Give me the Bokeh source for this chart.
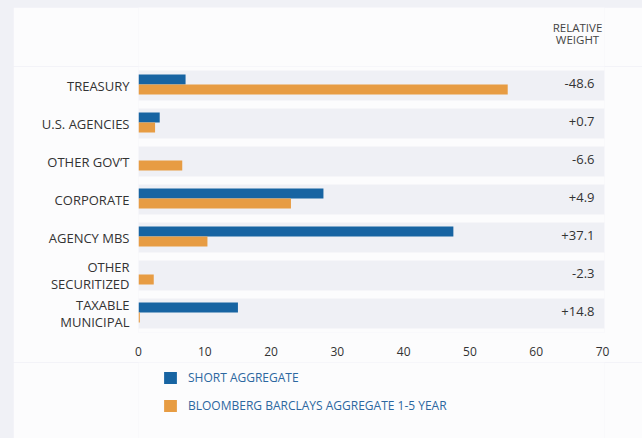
from bokeh.plotting import figure
from bokeh.models import Range1d, FactorRange, FixedTicker, Legend, LegendItem, ColumnDataSource, Label
from bokeh.transform import dodge
from bokeh.layouts import column
from bokeh.embed import file_html
from bokeh.resources import INLINE
from bokeh.core.properties import value

# ---- data ----
categories = ["TREASURY", "U.S. AGENCIES", "OTHER GOV\u2019T", "CORPORATE",
              "AGENCY MBS", "OTHER\nSECURITIZED", "TAXABLE\nMUNICIPAL"]
short_aggregate = [7.1, 3.2, 0.0, 27.9, 47.5, 0.0, 15.0]
bloomberg_1_5 = [55.7, 2.5, 6.6, 23.0, 10.4, 2.3, 0.2]
relative_weight = ["-48.6", "+0.7", "-6.6", "+4.9", "+37.1", "-2.3", "+14.8"]
x_ticks = [0, 10, 20, 30, 40, 50, 60, 70]
series_names = ["SHORT AGGREGATE", "BLOOMBERG BARCLAYS AGGREGATE 1-5 YEAR"]
header_text = "RELATIVE\nWEIGHT"

X_END = 70.3
FONT = "Open Sans"
BLUE = "#1764a2"
ORANGE = "#e79c43"
BAND = "#eff0f5"
PANEL = "#fcfcfd"
OUTER = "#f0f1f6"

src = ColumnDataSource(dict(cat=categories, short=short_aggregate,
                            bench=bloomberg_1_5, rel=relative_weight,
                            end=[X_END] * len(categories)))
x_range = Range1d(0, X_END)


def blank(height, margin):
    f = figure(width=629, height=height, output_backend="svg", toolbar_location=None,
               x_range=x_range, y_range=Range1d(0, 1),
               x_axis_location=None, y_axis_location=None, min_border=0)
    f.margin = margin
    f.background_fill_color = PANEL
    f.border_fill_color = PANEL
    f.outline_line_color = None
    f.grid.visible = False
    return f


# ---- header strip ----
h = blank(59, (7, 0, 0, 13))
h.add_layout(Label(x=X_END, y=0.555, x_offset=-27, text=header_text,
                   text_align="center", text_baseline="middle",
                   text_font=FONT, text_font_size="11.5px", text_color="#444444",
                   text_line_height=0.82))

# ---- main chart ----
p = figure(width=629, height=296, output_backend="svg", toolbar_location=None,
           x_range=x_range,
           y_range=FactorRange(factors=list(reversed(categories))),
           min_border_left=125, min_border_right=38, min_border_top=0,
           min_border_bottom=30)
p.margin = (0, 0, 0, 13)
p.background_fill_color = PANEL
p.border_fill_color = PANEL
p.outline_line_color = None
p.grid.visible = False

# row bands
p.hbar(y="cat", left=0, right="end", height=30 / 38, source=src,
       fill_color=BAND, line_color=None)

r1 = p.hbar(y=dodge("cat", 0.158, range=p.y_range), left=0, right="short",
            height=0.263, source=src, fill_color=BLUE, line_color=None)
r2 = p.hbar(y=dodge("cat", -0.105, range=p.y_range), left=0, right="bench",
            height=0.263, source=src, fill_color=ORANGE, line_color=None)

p.text(x="end", y=dodge("cat", 0.06, range=p.y_range), text="rel", source=src,
       x_offset=-10, text_align="right", text_baseline="middle",
       text_font=value(FONT), text_font_size="13px", text_color="#333333")

p.xaxis.ticker = FixedTicker(ticks=x_ticks)
p.xaxis.axis_line_color = None
p.xaxis.major_tick_line_color = None
p.xaxis.minor_tick_line_color = None
p.xaxis.major_tick_out = 0
p.xaxis.major_tick_in = 0
p.xaxis.major_label_standoff = 14
p.xaxis.major_label_text_font = FONT
p.xaxis.major_label_text_font_size = "12px"
p.xaxis.major_label_text_color = "#333333"

p.yaxis.axis_line_color = None
p.yaxis.major_tick_line_color = None
p.yaxis.minor_tick_line_color = None
p.yaxis.major_tick_out = 0
p.yaxis.major_tick_in = 0
p.yaxis.major_label_standoff = 9
p.yaxis.major_label_text_font = FONT
p.yaxis.major_label_text_font_size = "13px"
p.yaxis.major_label_text_color = "#333333"
p.yaxis.major_label_text_align = "right"
p.yaxis.major_label_text_line_height = 0.95

# ---- legend strip ----
q = blank(76, (0, 0, 0, 13))
k1 = q.hbar(y=0, left=0, right="short", height=0.1, source=src,
            fill_color=BLUE, line_color=None, visible=False)
k2 = q.hbar(y=0, left=0, right="bench", height=0.1, source=src,
            fill_color=ORANGE, line_color=None, visible=False)

legend = Legend(items=[LegendItem(label=series_names[0], renderers=[k1]),
                       LegendItem(label=series_names[1], renderers=[k2])],
                location=(24, 24), orientation="vertical",
                glyph_width=16, glyph_height=15, label_height=15, spacing=11,
                label_standoff=10, padding=0, margin=0,
                border_line_color=None, background_fill_alpha=0,
                inactive_fill_alpha=0,
                label_text_font=FONT, label_text_font_size="12px",
                label_text_color="#2c67a0")
q.add_layout(legend)

layout = column(h, p, q, width=642, height=438, spacing=0,
                styles={"background-color": OUTER})

open("out.html", "w").write(file_html(layout, INLINE))
